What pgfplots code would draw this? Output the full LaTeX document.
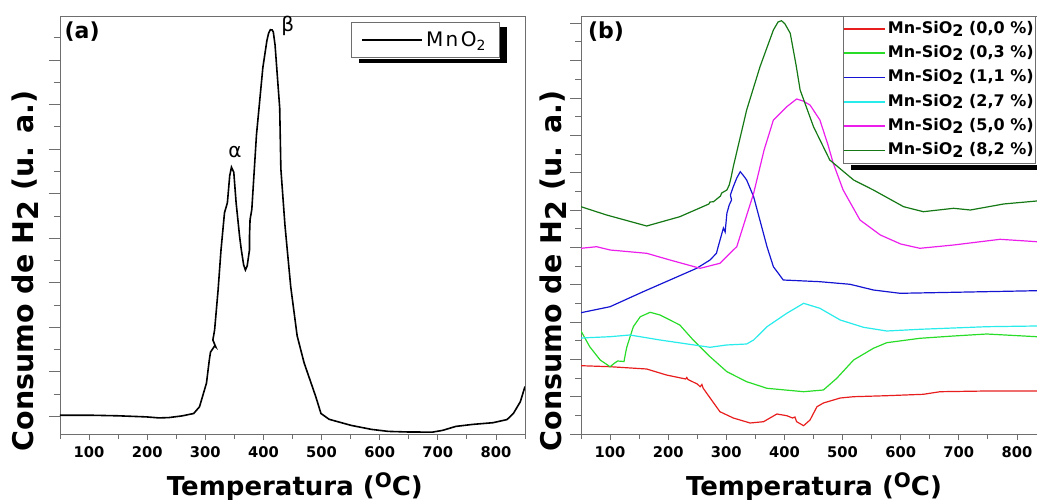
\documentclass[border=0pt]{standalone}
\usepackage{fontspec}
\setmainfont{DejaVu Sans}
\usepackage{graphicx}
\usepackage{pgfplots}
\pgfplotsset{compat=1.18}

\definecolor{cred}{RGB}{232,30,30}
\definecolor{clime}{RGB}{40,220,40}
\definecolor{cblue}{RGB}{20,20,210}
\definecolor{ccyan}{RGB}{40,235,235}
\definecolor{cmag}{RGB}{235,30,235}
\definecolor{cdgreen}{RGB}{20,120,20}
\definecolor{framec}{RGB}{110,110,110}

\newcommand{\lsub}[1]{\raisebox{-0.3ex}{#1}}

\pgfplotsset{
  tpr/.style={
    scale only axis, width=465pt, height=418pt,
    xmin=50, xmax=850, ymin=16, ymax=434, y dir=reverse,
    xtick={100,200,...,800}, minor xtick={50,150,...,850},
    xtick pos=lower, ytick pos=left,
    yticklabels={},
    tick align=outside, major tick length=6pt, minor tick length=5pt,
    tick style={framec, line width=0.8pt},
    axis line style={framec, line width=0.8pt},
    xticklabel style={font=\fontsize{14.7}{16}\selectfont\bfseries, yshift=-3pt},
    /pgf/number format/assume math mode=true,
    xlabel={Temperatura (\raisebox{0.55ex}{\fontsize{20}{20}\selectfont O}C)},
    xlabel style={font=\fontsize{26}{30}\selectfont\bfseries, anchor=base},
    ylabel={Consumo de H\lsub{2} (u. a.)},
    ylabel style={font=\fontsize{28.5}{32}\selectfont\bfseries, anchor=center},
    extra tick style={major tick length=11pt},
    extra y tick labels={},
  },
}

\begin{document}
\begin{tikzpicture}[x=1pt,y=1pt]
\path[use as bounding box] (0,0) rectangle (1037,500);

% panel (a)
\begin{axis}[tpr, at={(60pt,66pt)}, anchor=south west,
  ytick={37.8,82,126.7,171.5,216,260.5,305,349.3,394},
  extra y ticks={60.3,104.3,149,193.3,238.3,282.7,327,371.7,416.3},
  xlabel style={at={(axis description cs:0.505,-0.146)}},
  ylabel style={at={(axis description cs:-0.075,0.39)}},
  legend style={name=legA, at={(axis description cs:0.626,0.9856)}, anchor=north west,
    draw=framec, line width=0.8pt, fill=white, inner xsep=10pt, inner ysep=6.5pt,
    font=\fontsize{20}{24}\selectfont, nodes={inner sep=3pt}},
  legend image code/.code={\draw[#1] (0pt,0pt) -- (60pt,0pt);},
]
\addplot[draw=black, line width=1.6pt] coordinates {
(50,415.2)(100,415.2)(150,415.8)(199,416.9)(220,417.9)(237,417.6)(260,415.9)
(280,413.5)(290,406.8)(302,383.1)(307,359.5)(309,352)(316,346)(318,347)
(313,340)(316,330)(322,290)(327,250)(333,212.8)(338,202.7)(342,175.7)
(345,167.2)(349,172.3)(353,202.7)(359,236.5)(362,250)(366,265)(369,270)
(372,266)(376,250)(376,236.5)(377,219.6)(380,209.5)(388,135)(399,67.6)
(406,40.5)(409,33)(412,29.7)(415,30)(417,32)(420,45)(422,60.8)(428,108)
(430,169)(437,225)(441,250)(447,286.9)(458,335.8)(470,362.9)(490,396.6)
(499,413.5)(513,419.3)(551,425.4)(586,429.4)(615,431.4)(650,432)(691,432.1)
(708,430.4)(731,426.4)(760,424.4)(795,422.7)(819,419.6)(830,413.5)(842,401.7)
(850,386.5)
};
\addlegendentry{\addfontfeature{LetterSpace=12}MnO\textsubscript{2}\hspace{8pt}}
\node[font=\fontsize{22}{26}\selectfont\bfseries] at (axis cs:88,32) {(a)};
\node[font=\fontsize{20}{24}\selectfont] at (axis cs:351,152) {α};
\node[font=\fontsize{20}{24}\selectfont] at (axis cs:442,26) {β};
\end{axis}

% panel (b)
\begin{axis}[tpr, at={(581pt,66pt)}, anchor=south west,
  ytick={41.7,79.3,116.7,154,191.3,228.7,266,303.3,340.7,378,415.3},
  extra y ticks={23.3,60.3,98,135.3,172.7,210,247.3,284.7,322,359.3,396.7,434},
  xlabel style={at={(axis description cs:0.501,-0.146)}},
  ylabel style={at={(axis description cs:-0.06,0.39)}},
  legend cell align=left,
  legend style={name=legB, at={(axis description cs:0.5634,1)}, anchor=north west,
    draw=framec, line width=0.8pt, fill=white, inner xsep=0pt, inner ysep=3pt,
    font=\fontsize{16}{19}\selectfont\bfseries, row sep=4.3pt,
    nodes={inner sep=2pt, text height=12pt, text depth=4pt}},
  legend image code/.code={\draw[#1, line width=1.5pt] (0pt,0.5pt) -- (41pt,0.5pt);},
]
\addplot[draw=cred, line width=1.2pt] coordinates {
(50,365.7)(100,366.7)(163,369)(197,375)(230,379)(232,377.5)(234,379.5)(250,384)
(255,386.7)(258,384.5)(260,388)(266,393)(289,411.7)(312,418)(341,423)(364,421.7)
(387,414)(404,415.7)(414,418)(418,417)(421,421.7)(433,425.7)(444,420)(456,406.7)
(467,403)(496,398)(519,396.7)(576,395.7)(639,394.3)(668,391.7)(748,391)(850,391)
};
\addlegendentry{Mn-SiO\lsub{2} (0,0 \%)\hspace{10pt}}
\addplot[draw=clime, line width=1.2pt] coordinates {
(50,331)(65,346.7)(83,360)(100,366.7)(108,363)(113,361)(124,361.5)(127,352)
(129,346.7)(140,326.7)(152,316.7)(169,312.3)(186,315)(220,325)
(243,340)(272,356.7)(301,371.7)(335,381.7)(370,388.3)(433,391.7)(467,390)
(490,378.3)(519,360)(553,348.3)(576,342.7)(633,338.3)(691,336)(748,334)
(834,336.7)(850,336.5)
};
\addlegendentry{Mn-SiO\lsub{2} (0,3 \%)}
\addplot[draw=cblue, line width=1.2pt] coordinates {
(50,312.7)(100,306.7)(157,291.7)(203,280)(249,268.3)(272,260)(283,253.3)
(286,246.7)(295,228)(298,232)(301,213.3)(305,205)(309,200)(307,195)(312,186.7)
(318,178)(324,171.7)(330,176)(335,180)(347,196.7)(370,246.7)(381,266.7)
(398,280)(461,281.7)(513,284.3)(553,290)(599,293.3)(691,292.3)(834,290.7)(850,290.7)
};
\addlegendentry{Mn-SiO\lsub{2} (1,1 \%)}
\addplot[draw=ccyan, line width=1.2pt] coordinates {
(50,338)(100,336.7)(134,335)(186,340)(272,347.3)(300,345)(335,344)(347,340)
(370,326.7)(404,313.3)(433,303.3)(461,308.3)(496,320)(536,327.3)(576,331)
(633,329.3)(748,326.7)(834,326)(850,326)
};
\addlegendentry{Mn-SiO\lsub{2} (2,7 \%)}
\addplot[draw=cmag, line width=1.2pt] coordinates {
(50,248.3)(77,246.7)(100,250)(163,253.3)(203,260)(255,268.3)(289,263.3)
(312,250)(318,246.7)(347,193.3)(365,150)(381,120)(395,112)(404,106.7)(421,99)
(432,101)(444,105)(461,120)(475,145)(484,163.3)(501,190)(530,220)(565,235)
(600,244)(633,248.3)(691,245)(771,239.3)(834,241.7)(850,241.5)
};
\addlegendentry{Mn-SiO\lsub{2} (5,0 \%)}
\addplot[draw=cdgreen, line width=1.2pt] coordinates {
(50,206.7)(94,215)(163,226)(220,216.7)(270,204)(272,202)(278,201.7)(290,196)
(292,193)(301,190)(305,185)(308,178)(312,166.7)(335,110)(358,66.7)(381,30)
(389,22)(395,20.7)(401,24)(410,33.3)(420,65)(427,90)(450,126.7)(478,160)
(519,180)(553,190)(605,206.7)(639,211.7)(691,208.3)(720,210)(777,204)
(834,201)(850,200.5)
};
\addlegendentry{Mn-SiO\lsub{2} (8,2 \%)}
\node[font=\fontsize{22}{26}\selectfont\bfseries] at (axis cs:93,32) {(b)};
\end{axis}

% legend shadows (visible parts only)
\fill[black] ([xshift=0.4pt,yshift=-5pt]legA.north east) rectangle ([xshift=8pt,yshift=-5pt]legA.south east);
\fill[black] ([xshift=8pt,yshift=-0.4pt]legA.south west) rectangle ([xshift=8pt,yshift=-5pt]legA.south east);
\fill[black] ([xshift=8pt,yshift=-0.4pt]legB.south west) rectangle ([xshift=8pt,yshift=-5.5pt]legB.south east);
\end{tikzpicture}
\end{document}
